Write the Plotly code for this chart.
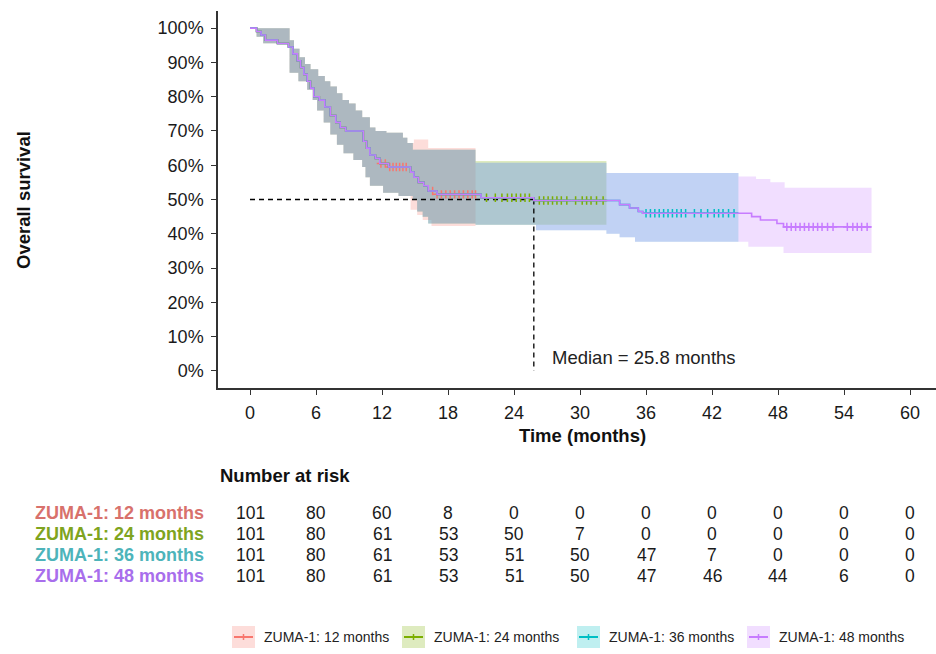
import bisect
import plotly.graph_objects as go

# ---------------- data ----------------
series_names = ["ZUMA-1: 12 months", "ZUMA-1: 24 months", "ZUMA-1: 36 months", "ZUMA-1: 48 months"]
line_colors = ["#F8766D", "#7CAE00", "#00BFC4", "#C77CFF"]
fill_colors = ["rgba(248,118,109,0.25)", "rgba(124,174,0,0.25)", "rgba(0,191,196,0.25)", "rgba(199,124,255,0.25)"]
label_colors = ["#D8716C", "#7FA41E", "#4DB4BA", "#A86EEC"]
followup_end = [20.5, 32.4, 44.4, 56.5]

# Kaplan-Meier step curve (shared by all data cuts, truncated at each follow-up end)
km_time = [0, 0.6, 1.0, 1.4, 2.5, 3.5, 3.9, 4.3, 4.6, 4.9, 5.2, 5.5, 5.8, 6.3, 6.8, 7.3, 7.8, 8.2, 8.7,
           10.3, 10.6, 10.9, 11.4, 11.8, 12.6, 14.6, 14.9, 15.3, 15.8, 16.2, 17.0, 21.0, 25.8,
           33.6, 34.5, 35.3, 35.7, 45.6, 46.4, 47.9, 48.5]
km_surv = [1.0, 0.99, 0.98, 0.965, 0.955, 0.945, 0.925, 0.905, 0.885, 0.865, 0.845, 0.825, 0.80, 0.79, 0.77,
           0.745, 0.725, 0.71, 0.70, 0.67, 0.65, 0.63, 0.62, 0.605, 0.595, 0.58, 0.565, 0.55, 0.54, 0.525,
           0.515, 0.505, 0.497, 0.485, 0.475, 0.465, 0.46, 0.45, 0.44, 0.43, 0.42]

# censoring times per data cut
censor_12 = [11.9, 12.3, 12.7, 13.0, 13.3, 13.6, 13.9, 14.2, 16.6, 17.0, 17.4, 17.8, 18.2, 18.6, 19.0, 19.4, 19.8, 20.2, 20.5]
censor_24 = [21.5, 22.3, 22.9, 23.4, 23.8, 24.2, 24.6, 25.0, 25.4, 26.3, 26.7, 27.1, 27.5, 27.9, 28.3, 28.8,
             29.6, 30.2, 30.6, 31.0, 31.5, 32.1]
censor_36 = [36.0, 36.4, 36.8, 37.2, 37.6, 38.0, 38.4, 38.8, 39.2, 39.6, 40.4, 41.0, 41.6, 42.2, 42.6, 43.0, 43.5, 44.0]
censor_48 = [48.8, 49.2, 49.6, 50.0, 50.4, 50.8, 51.2, 51.6, 52.0, 52.5, 53.0, 54.3, 54.8, 55.2, 55.6, 56.1]

# confidence band (upper), per data cut
up_t_12 = [0, 3.6, 4.0, 4.5, 5.0, 5.5, 6.2, 6.8, 7.3, 7.9, 8.4, 9.0, 9.6, 10.2, 10.9, 11.4, 12.4, 13.9, 14.3, 14.9, 16.2]
up_v_12 = [1.0, 0.965, 0.94, 0.915, 0.895, 0.88, 0.86, 0.845, 0.83, 0.81, 0.79, 0.78, 0.76, 0.74, 0.71, 0.70, 0.695, 0.68, 0.665, 0.675, 0.65]
up_t_24 = [0, 3.6, 4.0, 4.5, 5.0, 5.5, 6.2, 6.8, 7.3, 7.9, 8.4, 9.0, 9.6, 10.2, 10.9, 11.4, 12.4, 13.9, 14.3, 14.8, 20.5]
up_v_24 = [1.0, 0.965, 0.94, 0.915, 0.895, 0.88, 0.86, 0.845, 0.83, 0.81, 0.79, 0.78, 0.76, 0.74, 0.71, 0.70, 0.695, 0.68, 0.665, 0.645, 0.612]
up_t_36 = [0, 3.6, 4.0, 4.5, 5.0, 5.5, 6.2, 6.8, 7.3, 7.9, 8.4, 9.0, 9.6, 10.2, 10.9, 11.4, 12.4, 13.9, 14.3, 14.8, 20.5, 32.4]
up_v_36 = [1.0, 0.965, 0.94, 0.915, 0.895, 0.88, 0.86, 0.845, 0.83, 0.81, 0.79, 0.78, 0.76, 0.74, 0.71, 0.70, 0.695, 0.68, 0.665, 0.645, 0.607, 0.577]
up_t_48 = [0, 3.6, 4.0, 4.5, 5.0, 5.5, 6.2, 6.8, 7.3, 7.9, 8.4, 9.0, 9.6, 10.2, 10.9, 11.4, 12.4, 13.9, 14.3, 14.8, 20.5, 32.4, 44.4, 46.0, 47.3, 48.6]
up_v_48 = [1.0, 0.965, 0.94, 0.915, 0.895, 0.88, 0.86, 0.845, 0.83, 0.81, 0.79, 0.78, 0.76, 0.74, 0.71, 0.70, 0.695, 0.68, 0.665, 0.645, 0.607, 0.577, 0.567, 0.56, 0.55, 0.534]

# confidence band (lower), per data cut
lo_t_12 = [0, 0.6, 1.2, 3.6, 4.4, 5.2, 5.7, 6.1, 6.7, 7.3, 7.9, 8.5, 9.4, 10.2, 10.5, 10.9, 12.1, 13.5, 14.6, 15.2, 15.7, 16.5]
lo_v_12 = [1.0, 0.975, 0.956, 0.87, 0.845, 0.82, 0.79, 0.76, 0.725, 0.69, 0.66, 0.635, 0.615, 0.595, 0.565, 0.54, 0.52, 0.51, 0.47, 0.455, 0.44, 0.423]
lo_t_24 = [0, 0.6, 1.2, 3.6, 4.4, 5.2, 5.7, 6.1, 6.7, 7.3, 7.9, 8.5, 9.4, 10.2, 10.5, 10.9, 12.1, 13.5, 14.8, 15.2, 15.7, 16.2, 20.5]
lo_v_24 = [1.0, 0.975, 0.956, 0.87, 0.845, 0.82, 0.79, 0.76, 0.725, 0.69, 0.66, 0.635, 0.615, 0.595, 0.565, 0.54, 0.52, 0.51, 0.50, 0.465, 0.45, 0.43, 0.426]
lo_t_36 = [0, 0.6, 1.2, 3.6, 4.4, 5.2, 5.7, 6.1, 6.7, 7.3, 7.9, 8.5, 9.4, 10.2, 10.5, 10.9, 12.1, 13.5, 14.8, 15.2, 15.7, 16.2, 20.5, 26.0, 32.4, 33.6, 35.0]
lo_v_36 = [1.0, 0.975, 0.956, 0.87, 0.845, 0.82, 0.79, 0.76, 0.725, 0.69, 0.66, 0.635, 0.615, 0.595, 0.565, 0.54, 0.52, 0.51, 0.50, 0.465, 0.45, 0.43, 0.426, 0.41, 0.40, 0.39, 0.377]
lo_t_48 = [0, 0.6, 1.2, 3.6, 4.4, 5.2, 5.7, 6.1, 6.7, 7.3, 7.9, 8.5, 9.4, 10.2, 10.5, 10.9, 12.1, 13.5, 14.8, 15.2, 15.7, 16.2, 20.5, 26.0, 32.4, 33.6, 35.0, 45.3, 48.5]
lo_v_48 = [1.0, 0.975, 0.956, 0.87, 0.845, 0.82, 0.79, 0.76, 0.725, 0.69, 0.66, 0.635, 0.615, 0.595, 0.565, 0.54, 0.52, 0.51, 0.50, 0.465, 0.45, 0.43, 0.426, 0.41, 0.40, 0.39, 0.377, 0.362, 0.344]

# number at risk table
risk_times = [0, 6, 12, 18, 24, 30, 36, 42, 48, 54, 60]
risk_12 = [101, 80, 60, 8, 0, 0, 0, 0, 0, 0, 0]
risk_24 = [101, 80, 61, 53, 50, 7, 0, 0, 0, 0, 0]
risk_36 = [101, 80, 61, 53, 51, 50, 47, 7, 0, 0, 0]
risk_48 = [101, 80, 61, 53, 51, 50, 47, 46, 44, 6, 0]

median_os = 25.8
x_ticks = [0, 6, 12, 18, 24, 30, 36, 42, 48, 54, 60]
y_ticks = [0, 0.1, 0.2, 0.3, 0.4, 0.5, 0.6, 0.7, 0.8, 0.9, 1.0]

censors = [censor_12, censor_24, censor_36, censor_48]
ups = [(up_t_12, up_v_12), (up_t_24, up_v_24), (up_t_36, up_v_36), (up_t_48, up_v_48)]
los = [(lo_t_12, lo_v_12), (lo_t_24, lo_v_24), (lo_t_36, lo_v_36), (lo_t_48, lo_v_48)]
risks = [risk_12, risk_24, risk_36, risk_48]


def truncate(ts, vs, end):
    xs = [t for t in ts if t <= end]
    ys = vs[:len(xs)]
    return xs + [end], ys + [ys[-1]]


def step_value(ts, vs, t):
    i = bisect.bisect_right(ts, t) - 1
    return vs[max(i, 0)]


FONT = "Liberation Sans, Arial, sans-serif"
# plot area in pixels (for paper-coordinate placement of outside elements)
PL, PR, PT, PB = 218, 936, 11, 388


def px_x(px):
    return (px - PL) / (PR - PL)


def px_y(py):
    return (PB - py) / (PB - PT)


fig = go.Figure()

# confidence bands
for k in range(4):
    lx, ly = truncate(los[k][0], los[k][1], followup_end[k])
    ux, uy = truncate(ups[k][0], ups[k][1], followup_end[k])
    fig.add_trace(go.Scatter(x=lx, y=ly, mode="lines", line=dict(width=0, shape="hv"),
                             showlegend=False, hoverinfo="skip"))
    fig.add_trace(go.Scatter(x=ux, y=uy, mode="lines", line=dict(width=0, shape="hv"),
                             fill="tonexty", fillcolor=fill_colors[k],
                             showlegend=False, hoverinfo="skip"))

# median reference lines
fig.add_trace(go.Scatter(x=[0, median_os], y=[0.5, 0.5], mode="lines",
                         line=dict(color="black", width=1.3, dash="5px,4px"),
                         showlegend=False, hoverinfo="skip"))
fig.add_trace(go.Scatter(x=[median_os, median_os], y=[0.5, 0], mode="lines",
                         line=dict(color="black", width=1.3, dash="5px,4px"),
                         showlegend=False, hoverinfo="skip"))

# KM curves and censor marks
for k in range(4):
    cx, cy = truncate(km_time, km_surv, followup_end[k])
    fig.add_trace(go.Scatter(x=cx, y=cy, mode="lines", name=series_names[k],
                             line=dict(color=line_colors[k], width=1.6, shape="hv"),
                             showlegend=False))
    ys = [step_value(km_time, km_surv, t) for t in censors[k]]
    fig.add_trace(go.Scatter(x=censors[k], y=ys, mode="markers",
                             marker=dict(symbol="cross-thin", size=6,
                                         line=dict(color=line_colors[k], width=1.5)),
                             showlegend=False, hoverinfo="skip"))

annotations = []
shapes = []
annotations.append(dict(x=27.3, y=0.04, xref="x", yref="y", text="Median = 25.8 months",
                        showarrow=False, xanchor="left", yanchor="middle",
                        font=dict(family=FONT, size=18.5, color="#222")))
annotations.append(dict(x=px_x(23), y=px_y(200), xref="paper", yref="paper", text="<b>Overall survival</b>",
                        showarrow=False, textangle=-90, xanchor="center", yanchor="middle",
                        font=dict(family=FONT, size=18.5, color="#111")))
annotations.append(dict(x=px_x(582), y=px_y(435), xref="paper", yref="paper", text="<b>Time (months)</b>",
                        showarrow=False, xanchor="center", yanchor="middle",
                        font=dict(family=FONT, size=18.5, color="#111")))
annotations.append(dict(x=0.0, y=px_y(475), xref="paper", yref="paper", text="<b>Number at risk</b>",
                        showarrow=False, xanchor="left", yanchor="middle",
                        font=dict(family=FONT, size=18.5, color="#111")))
row_px = [513, 534, 555, 576]
for k in range(4):
    ry = px_y(row_px[k])
    annotations.append(dict(x=px_x(206), y=ry, xref="paper", yref="paper",
                            text="<b>" + series_names[k] + "</b>", showarrow=False,
                            xanchor="right", yanchor="middle",
                            font=dict(family=FONT, size=18, color=label_colors[k])))
    for t, n in zip(risk_times, risks[k]):
        annotations.append(dict(x=t, y=ry, xref="x", yref="paper", text=str(n),
                                showarrow=False, xanchor="center", yanchor="middle",
                                font=dict(family=FONT, size=17.5, color="#1a1a1a")))

# manual legend (key box with line + label)
legend_key_px = [232, 402, 577, 747]
LEG_Y = 637
for k in range(4):
    x0 = legend_key_px[k]
    shapes.append(dict(type="rect", xref="paper", yref="paper",
                       x0=px_x(x0), x1=px_x(x0 + 23), y0=px_y(LEG_Y - 11), y1=px_y(LEG_Y + 11),
                       fillcolor=fill_colors[k], line=dict(width=0)))
    shapes.append(dict(type="line", xref="paper", yref="paper",
                       x0=px_x(x0 + 2), x1=px_x(x0 + 21), y0=px_y(LEG_Y), y1=px_y(LEG_Y),
                       line=dict(color=line_colors[k], width=2)))
    shapes.append(dict(type="line", xref="paper", yref="paper",
                       x0=px_x(x0 + 11.5), x1=px_x(x0 + 11.5), y0=px_y(LEG_Y - 3), y1=px_y(LEG_Y + 3),
                       line=dict(color=line_colors[k], width=1.5)))
    annotations.append(dict(x=px_x(x0 + 30), y=px_y(LEG_Y), xref="paper", yref="paper",
                            text=series_names[k], showarrow=False, xanchor="left", yanchor="middle",
                            font=dict(family=FONT, size=14, color="#222")))

fig.update_layout(
    width=936, height=654, autosize=False,
    margin=dict(l=PL, r=936 - PR, t=PT, b=654 - PB),
    plot_bgcolor="white", paper_bgcolor="white",
    font=dict(family=FONT, size=18, color="#1a1a1a"),
    showlegend=False,
    annotations=annotations,
    shapes=shapes,
)
fig.update_xaxes(range=[-2.909, 62.36], tickvals=x_ticks, ticktext=[str(v) for v in x_ticks],
                 showgrid=False, zeroline=False, showline=True, linecolor="#333", linewidth=1.5,
                 ticks="outside", ticklen=5, tickwidth=1.3, tickcolor="#333",
                 ticklabelstandoff=3, tickfont=dict(size=18, color="#1a1a1a"))
fig.update_yaxes(range=[-0.05, 1.05], tickvals=y_ticks, tickformat=".0%",
                 showgrid=False, zeroline=False, showline=True, linecolor="#333", linewidth=1.5,
                 ticks="outside", ticklen=5, tickwidth=1.3, tickcolor="#333",
                 ticklabelstandoff=4, tickfont=dict(size=18, color="#1a1a1a"))

fig.write_html("out.html")
